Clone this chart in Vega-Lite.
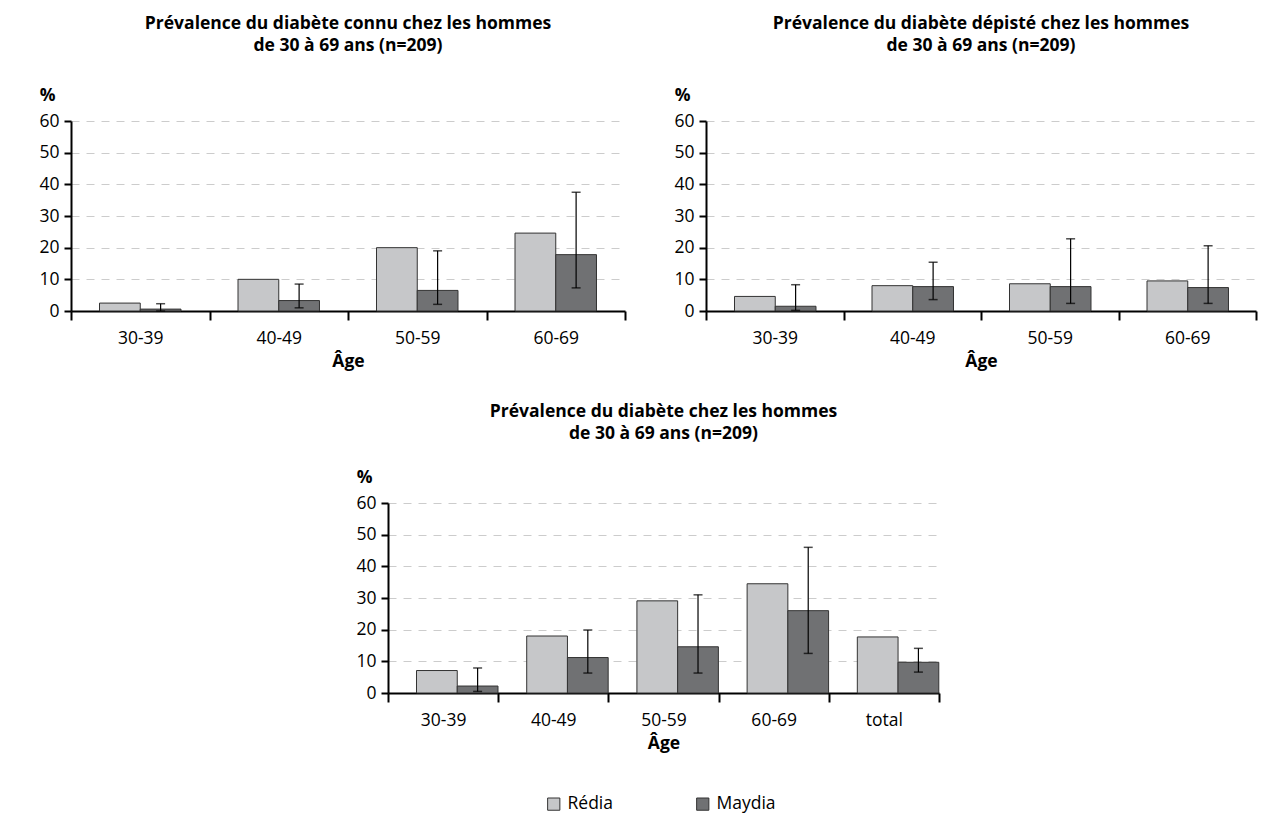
{
  "$schema": "https://vega.github.io/schema/vega-lite/v6.json",
  "padding": {"left": 38, "top": 14, "right": 10, "bottom": 10},
  "background": "white",
  "datasets": {
    "d": [
      {"panel": "connu", "age": "30-39", "series": "Rédia", "value": 2.5},
      {"panel": "connu", "age": "30-39", "series": "Maydia", "value": 0.6, "lo": 0.0, "hi": 2.3},
      {"panel": "connu", "age": "40-49", "series": "Rédia", "value": 10.0},
      {"panel": "connu", "age": "40-49", "series": "Maydia", "value": 3.3, "lo": 1.0, "hi": 8.5},
      {"panel": "connu", "age": "50-59", "series": "Rédia", "value": 20.0},
      {"panel": "connu", "age": "50-59", "series": "Maydia", "value": 6.5, "lo": 2.1, "hi": 19.0},
      {"panel": "connu", "age": "60-69", "series": "Rédia", "value": 24.6},
      {"panel": "connu", "age": "60-69", "series": "Maydia", "value": 17.8, "lo": 7.3, "hi": 37.5},
      {"panel": "depiste", "age": "30-39", "series": "Rédia", "value": 4.6},
      {"panel": "depiste", "age": "30-39", "series": "Maydia", "value": 1.5, "lo": 0.2, "hi": 8.3},
      {"panel": "depiste", "age": "40-49", "series": "Rédia", "value": 8.0},
      {"panel": "depiste", "age": "40-49", "series": "Maydia", "value": 7.7, "lo": 3.6, "hi": 15.4},
      {"panel": "depiste", "age": "50-59", "series": "Rédia", "value": 8.6},
      {"panel": "depiste", "age": "50-59", "series": "Maydia", "value": 7.7, "lo": 2.4, "hi": 22.8},
      {"panel": "depiste", "age": "60-69", "series": "Rédia", "value": 9.5},
      {"panel": "depiste", "age": "60-69", "series": "Maydia", "value": 7.4, "lo": 2.4, "hi": 20.6},
      {"panel": "total", "age": "30-39", "series": "Rédia", "value": 7.1},
      {"panel": "total", "age": "30-39", "series": "Maydia", "value": 2.2, "lo": 0.5, "hi": 7.9},
      {"panel": "total", "age": "40-49", "series": "Rédia", "value": 18.0},
      {"panel": "total", "age": "40-49", "series": "Maydia", "value": 11.2, "lo": 6.3, "hi": 19.9},
      {"panel": "total", "age": "50-59", "series": "Rédia", "value": 29.1},
      {"panel": "total", "age": "50-59", "series": "Maydia", "value": 14.6, "lo": 6.3, "hi": 31.0},
      {"panel": "total", "age": "60-69", "series": "Rédia", "value": 34.5},
      {"panel": "total", "age": "60-69", "series": "Maydia", "value": 26.0, "lo": 12.5, "hi": 46.0},
      {"panel": "total", "age": "total", "series": "Rédia", "value": 17.7},
      {"panel": "total", "age": "total", "series": "Maydia", "value": 9.7, "lo": 6.6, "hi": 14.1}
    ]
  },
  "config": {
    "font": "Open Sans",
    "view": {"stroke": null},
    "title": {"font": "Open Sans", "fontSize": 17.5, "fontWeight": "bold", "color": "#000", "anchor": "middle", "lineHeight": 22, "offset": 32},
    "axis": {
      "labelFont": "Open Sans", "labelFontSize": 17.5, "labelColor": "#000",
      "titleFont": "Open Sans", "titleFontSize": 17.5, "titleColor": "#000", "titleFontWeight": "bold",
      "domainColor": "#000", "domainWidth": 2, "tickColor": "#000", "tickWidth": 2
    },
    "axisY": {"tickCount": 7, "tickSize": 7, "labelPadding": 5, "labelOverlap": false, "grid": true, "gridDash": [8, 7], "gridColor": "#cccccc", "titleAngle": 0, "titleX": -24, "titleY": -26, "titleAlign": "center", "titleBaseline": "middle"},
    "axisX": {"labelAngle": 0, "tickBand": "extent", "tickSize": 9, "labelPadding": 9, "titlePadding": 6},
    "legend": {"labelFont": "Open Sans", "labelFontSize": 17.5, "labelColor": "#000"}
  },
  "resolve": {"legend": {"color": "independent"}},
  "center": true,
  "spacing": 32,
  "vconcat": [
    {
      "hconcat": [
        {
          "width": 554, "height": 190,
          "title": {"text": ["Prévalence du diabète connu chez les hommes", "de 30 à 69 ans (n=209)"]},
          "data": {"name": "d"},
          "transform": [{"filter": "datum.panel == 'connu'"}],
          "encoding": {
            "x": {"field": "age", "type": "nominal", "sort": null, "title": "Âge", "scale": {"paddingInner": 0, "paddingOuter": 0}}
          },
          "layer": [
            {
              "mark": {"type": "bar", "stroke": "#333", "strokeWidth": 1},
              "encoding": {
                "y": {"field": "value", "type": "quantitative", "title": "%", "scale": {"domain": [0, 60]}},
                "xOffset": {"field": "series", "type": "nominal", "scale": {"domain": ["Rédia", "Maydia"], "paddingOuter": 0.7, "paddingInner": 0}},
                "color": {"field": "series", "type": "nominal", "scale": {"domain": ["Rédia", "Maydia"], "range": ["#c6c7c9", "#707173"]}, "legend": null}
              }
            },
            {
              "transform": [{"filter": "isValid(datum.hi)"}],
              "mark": {"type": "rule", "color": "#000", "strokeWidth": 1.2},
              "encoding": {
                "xOffset": {"field": "series", "type": "nominal"},
                "y": {"field": "lo", "type": "quantitative", "title": "%"},
                "y2": {"field": "hi"}
              }
            },
            {
              "transform": [{"filter": "isValid(datum.hi)"}],
              "mark": {"type": "tick", "orient": "horizontal", "size": 9, "thickness": 1.5, "color": "#000"},
              "encoding": {
                "xOffset": {"field": "series", "type": "nominal"},
                "y": {"field": "hi", "type": "quantitative", "title": "%"}
              }
            },
            {
              "transform": [{"filter": "isValid(datum.hi)"}],
              "mark": {"type": "tick", "orient": "horizontal", "size": 9, "thickness": 1.5, "color": "#000"},
              "encoding": {
                "xOffset": {"field": "series", "type": "nominal"},
                "y": {"field": "lo", "type": "quantitative", "title": "%"}
              }
            }
          ]
        },
        {
          "width": 550, "height": 190,
          "title": {"text": ["Prévalence du diabète dépisté chez les hommes", "de 30 à 69 ans (n=209)"]},
          "data": {"name": "d"},
          "transform": [{"filter": "datum.panel == 'depiste'"}],
          "encoding": {
            "x": {"field": "age", "type": "nominal", "sort": null, "title": "Âge", "scale": {"paddingInner": 0, "paddingOuter": 0}}
          },
          "layer": [
            {
              "mark": {"type": "bar", "stroke": "#333", "strokeWidth": 1},
              "encoding": {
                "y": {"field": "value", "type": "quantitative", "title": "%", "scale": {"domain": [0, 60]}},
                "xOffset": {"field": "series", "type": "nominal", "scale": {"domain": ["Rédia", "Maydia"], "paddingOuter": 0.7, "paddingInner": 0}},
                "color": {"field": "series", "type": "nominal", "scale": {"domain": ["Rédia", "Maydia"], "range": ["#c6c7c9", "#707173"]}, "legend": null}
              }
            },
            {
              "transform": [{"filter": "isValid(datum.hi)"}],
              "mark": {"type": "rule", "color": "#000", "strokeWidth": 1.2},
              "encoding": {
                "xOffset": {"field": "series", "type": "nominal"},
                "y": {"field": "lo", "type": "quantitative", "title": "%"},
                "y2": {"field": "hi"}
              }
            },
            {
              "transform": [{"filter": "isValid(datum.hi)"}],
              "mark": {"type": "tick", "orient": "horizontal", "size": 9, "thickness": 1.5, "color": "#000"},
              "encoding": {
                "xOffset": {"field": "series", "type": "nominal"},
                "y": {"field": "hi", "type": "quantitative", "title": "%"}
              }
            },
            {
              "transform": [{"filter": "isValid(datum.hi)"}],
              "mark": {"type": "tick", "orient": "horizontal", "size": 9, "thickness": 1.5, "color": "#000"},
              "encoding": {
                "xOffset": {"field": "series", "type": "nominal"},
                "y": {"field": "lo", "type": "quantitative", "title": "%"}
              }
            }
          ]
        }
      ],
      "spacing": 47,
      "resolve": {"legend": {"color": "independent"}}
    },
    {
      "width": 551, "height": 190,
      "title": {"text": ["Prévalence du diabète chez les hommes", "de 30 à 69 ans (n=209)"], "offset": 26},
      "data": {"name": "d"},
      "transform": [{"filter": "datum.panel == 'total'"}],
      "encoding": {
        "x": {"field": "age", "type": "nominal", "sort": null, "title": "Âge", "scale": {"paddingInner": 0, "paddingOuter": 0}}
      },
      "layer": [
        {
          "mark": {"type": "bar", "stroke": "#333", "strokeWidth": 1},
          "encoding": {
            "y": {"field": "value", "type": "quantitative", "title": "%", "scale": {"domain": [0, 60]}},
            "xOffset": {"field": "series", "type": "nominal", "scale": {"domain": ["Rédia", "Maydia"], "paddingOuter": 0.7, "paddingInner": 0}},
            "color": {"field": "series", "type": "nominal", "scale": {"domain": ["Rédia", "Maydia"], "range": ["#c6c7c9", "#707173"]},
              "legend": {"title": null, "orient": "none", "legendX": 157, "legendY": 292, "direction": "horizontal", "symbolType": "square", "symbolSize": 150, "symbolStrokeColor": "#333", "symbolStrokeWidth": 1, "columnPadding": 81, "labelOffset": 5}}
          }
        },
        {
          "transform": [{"filter": "isValid(datum.hi)"}],
          "mark": {"type": "rule", "color": "#000", "strokeWidth": 1.2},
          "encoding": {
            "xOffset": {"field": "series", "type": "nominal"},
            "y": {"field": "lo", "type": "quantitative", "title": "%"},
            "y2": {"field": "hi"}
          }
        },
        {
          "transform": [{"filter": "isValid(datum.hi)"}],
          "mark": {"type": "tick", "orient": "horizontal", "size": 9, "thickness": 1.5, "color": "#000"},
          "encoding": {
            "xOffset": {"field": "series", "type": "nominal"},
            "y": {"field": "hi", "type": "quantitative", "title": "%"}
          }
        },
        {
          "transform": [{"filter": "isValid(datum.hi)"}],
          "mark": {"type": "tick", "orient": "horizontal", "size": 9, "thickness": 1.5, "color": "#000"},
          "encoding": {
            "xOffset": {"field": "series", "type": "nominal"},
            "y": {"field": "lo", "type": "quantitative", "title": "%"}
          }
        }
      ]
    }
  ]
}
